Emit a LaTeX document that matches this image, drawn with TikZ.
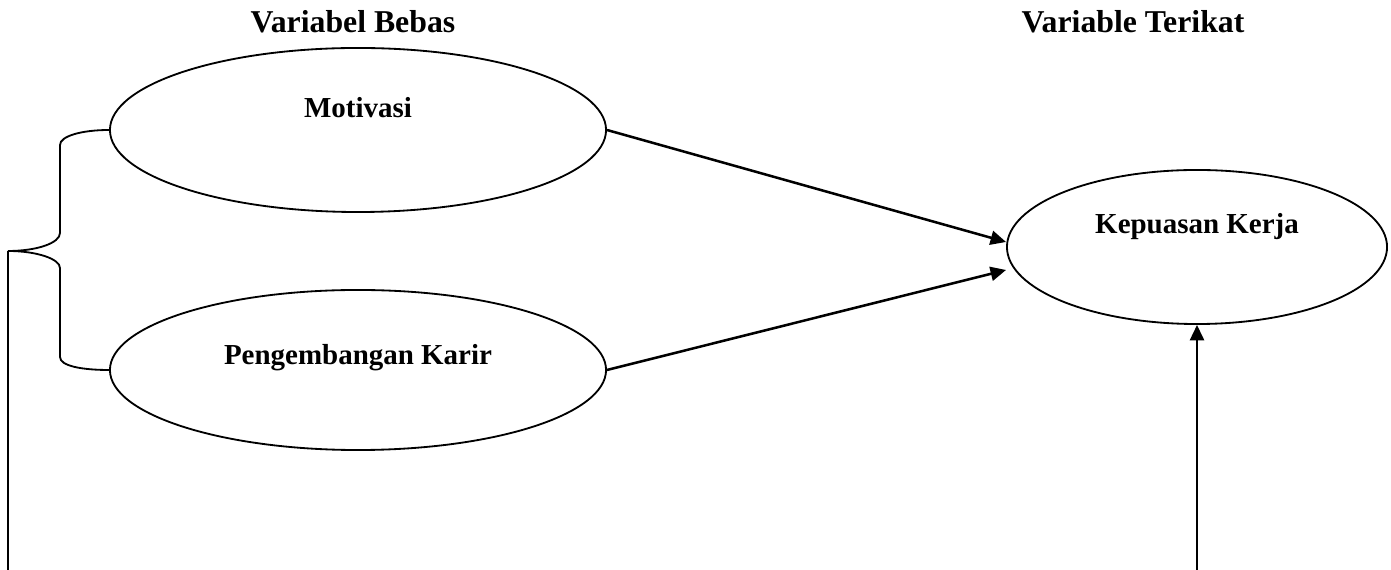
\documentclass[tikz,border=0pt]{standalone}
\usepackage{fontspec}
\setmainfont{Liberation Serif}
\usetikzlibrary{arrows.meta,positioning,calc,shapes.geometric}

\begin{document}
\begin{tikzpicture}[
  x=0.025cm, y=0.025cm,
  >={Triangle[length=11pt,width=10pt]},
  judul/.style={font=\fontsize{22.6}{27}\selectfont\bfseries, anchor=base},
  variabel/.style={draw, ellipse, line width=1.3pt, inner sep=0pt},
  teks/.style={font=\fontsize{20.6}{25}\selectfont\bfseries, anchor=base},
  panah/.style={->, line width=1.8pt}
]
\useasboundingbox (0,0) rectangle (1391,570);

\node[judul] (bebas) at (353,537) {Variabel Bebas};
\node[judul] (terikat) at (1133,537) {Variable Terikat};

\node[variabel, minimum width=12.4cm, minimum height=4.1cm,
  label={[teks, yshift=0.55cm]center:Motivasi}] (motivasi) at (358,440) {};
\node[variabel, minimum width=12.4cm, minimum height=4.0cm,
  label={[teks, yshift=0.3cm]center:Pengembangan Karir}] (karir) at (358,200) {};
\node[variabel, minimum width=9.5cm, minimum height=3.85cm,
  label={[teks, yshift=0.5cm]center:Kepuasan Kerja}] (kepuasan) at (1197,323) {};

\coordinate (ujung) at (8,319);
\coordinate (bawahkiri) at (8,0);
\coordinate (bawahkanan) at (1197,0);

% kurung kurawal
\draw[line width=1.3pt] (motivasi.west) .. controls (82,440) and (60,434) .. (60,425)
  -- (60,337) .. controls (60,327) and (37,319) .. (ujung)
  .. controls (37,319) and (60,311) .. (60,302) -- (60,213)
  .. controls (60,204) and (82,200) .. (karir.west);
\draw[line width=1.1pt] (ujung) -- (bawahkiri);

\draw[panah] (motivasi.east) -- ($(kepuasan.west)+(0,5)$);
\draw[panah] (karir.east) -- ($(kepuasan.west)+(0,-23)$);
\draw[panah] (bawahkanan) -- (kepuasan.south);
\end{tikzpicture}
\end{document}
